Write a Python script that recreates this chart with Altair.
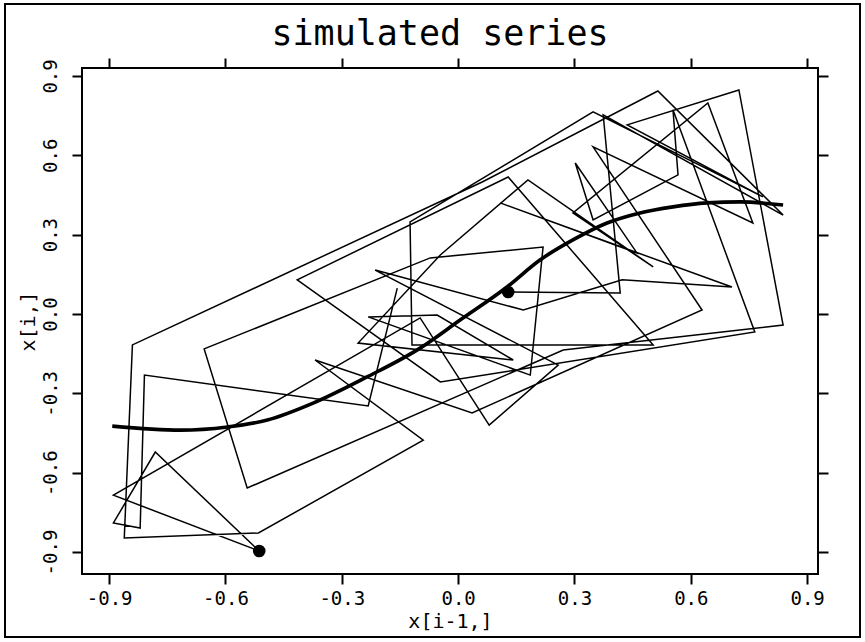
import altair as alt
import pandas as pd

TITLE = "simulated series"
X_TITLE = "x[i-1,]"
Y_TITLE = "x[i,]"
tick_values = [-0.9, -0.6, -0.3, 0.0, 0.3, 0.6, 0.9]

# simulated series, as pairs (x[i-1], x[i]) in path order
path_prev = [-0.157, -0.232, -0.809, -0.820, -0.889, -0.781, -0.513, -0.889, -0.098, 0.080,
             0.258, -0.214, 0.168, 0.423, 0.706, 0.108, 0.461, 0.302, 0.348, 0.567,
             0.554, 0.765, -0.046, -0.415, 0.129, 0.503, -0.119, -0.124, 0.348, 0.786,
             0.436, 0.724, 0.838, 0.271, -0.544, -0.655, -0.072, 0.219, 0.186, -0.232,
             -0.054, 0.142, -0.258, -0.046, 0.180, 0.503, 0.296, 0.644, 0.760, 0.348,
             0.629, 0.036, -0.369, -0.090, -0.515, -0.861, -0.840, 0.062, 0.515, 0.838,
             0.374, 0.418, 0.129]
path_curr = [0.098, -0.348, -0.231, -0.809, -0.790, -0.522, -0.896, -0.685, -0.015, -0.420,
             -0.193, 0.166, 0.015, 0.129, 0.102, 0.420, 0.231, 0.571, 0.356, 0.526,
             0.772, -0.068, -0.257, 0.129, 0.518, -0.117, -0.117, 0.348, 0.764, 0.443,
             0.715, 0.847, -0.042, -0.136, -0.658, -0.132, 0.212, 0.253, -0.231, -0.011,
             -0.004, -0.174, -0.110, 0.223, 0.507, 0.178, 0.382, 0.798, 0.344, 0.632,
             0.015, -0.374, -0.174, -0.477, -0.828, -0.847, -0.117, 0.499, 0.843, 0.374,
             0.753, 0.079, 0.083]

# thick skeleton curve
curve_x = [-0.892, -0.716, -0.595, -0.492, -0.374, -0.235, -0.098, 0.005, 0.126, 0.211,
           0.296, 0.384, 0.469, 0.554, 0.642, 0.727, 0.838]
curve_y = [-0.424, -0.439, -0.427, -0.401, -0.337, -0.238, -0.129, -0.023, 0.102, 0.204,
           0.280, 0.344, 0.382, 0.405, 0.420, 0.424, 0.412]

dot_x = [-0.513, 0.129]
dot_y = [-0.896, 0.083]

X_DOMAIN = [-0.970, 0.928]
Y_DOMAIN = [-0.983, 0.930]

FONT = "DejaVu Sans Mono"

path_df = pd.DataFrame({"step": list(range(len(path_prev))), "prev": path_prev, "curr": path_curr})
curve_df = pd.DataFrame({"k": list(range(len(curve_x))), "x": curve_x, "y": curve_y})
dot_df = pd.DataFrame({"x": dot_x, "y": dot_y})
frame_df = pd.DataFrame({"a": [0]})
title_df = pd.DataFrame({"t": [TITLE]})

xs = alt.Scale(domain=X_DOMAIN, nice=False, zero=False)
ys = alt.Scale(domain=Y_DOMAIN, nice=False, zero=False)

label_expr = "datum.value < 0 ? '-' + format(-datum.value, '.1f') : format(datum.value, '.1f')"

common = dict(values=tick_values, tickSize=10, tickWidth=2, tickColor="black",
              grid=False, domain=False)

x_bottom = alt.Axis(orient="bottom", title=X_TITLE, labelExpr=label_expr,
                    labelFont=FONT, labelFontSize=19, labelColor="black", labelPadding=5,
                    titleFont=FONT, titleFontSize=20, titleFontWeight="normal",
                    titleColor="black", titlePadding=3, **common)
y_left = alt.Axis(orient="left", title=Y_TITLE, labelExpr=label_expr, labelAngle=270,
                  labelFont=FONT, labelFontSize=19, labelColor="black", labelPadding=12,
                  titleFont=FONT, titleFontSize=20, titleFontWeight="normal",
                  titleColor="black", titlePadding=3, **common)
x_top = alt.Axis(orient="top", labels=False, title=None, **common)
y_right = alt.Axis(orient="right", labels=False, title=None, **common)

path = alt.Chart(path_df).mark_line(color="black", strokeWidth=1.5).encode(
    x=alt.X("prev:Q", scale=xs, axis=x_bottom),
    y=alt.Y("curr:Q", scale=ys, axis=y_left),
    order="step:Q",
)

curve = alt.Chart(curve_df).mark_line(color="black", strokeWidth=3.6, interpolate="monotone").encode(
    x=alt.X("x:Q", scale=xs, axis=x_top),
    y=alt.Y("y:Q", scale=ys, axis=y_right),
    order="k:Q",
)

dots = alt.Chart(dot_df).mark_circle(color="black", size=160, opacity=1).encode(
    x=alt.X("x:Q", scale=xs, axis=None),
    y=alt.Y("y:Q", scale=ys, axis=None),
)

frame = alt.Chart(frame_df).mark_rect(fillOpacity=0, stroke="black", strokeWidth=2).encode(
    x=alt.value(-77), x2=alt.value(778), y=alt.value(-64), y2=alt.value(569)
)

title = alt.Chart(title_df).mark_text(font=FONT, fontSize=35, color="black",
                                      baseline="alphabetic", align="center").encode(
    text="t:N", x=alt.value(358), y=alt.value(-23)
)

chart = alt.layer(path, curve, dots, frame, title).resolve_axis(
    x="independent", y="independent"
).properties(
    width=736, height=506,
    autosize=alt.AutoSizeParams(type="none"),
    padding={"left": 82, "top": 68, "right": 47, "bottom": 68},
    background="white",
).configure_view(stroke="black", strokeWidth=2)

chart.save("out.html", embed_options={"renderer": "svg", "actions": False})
